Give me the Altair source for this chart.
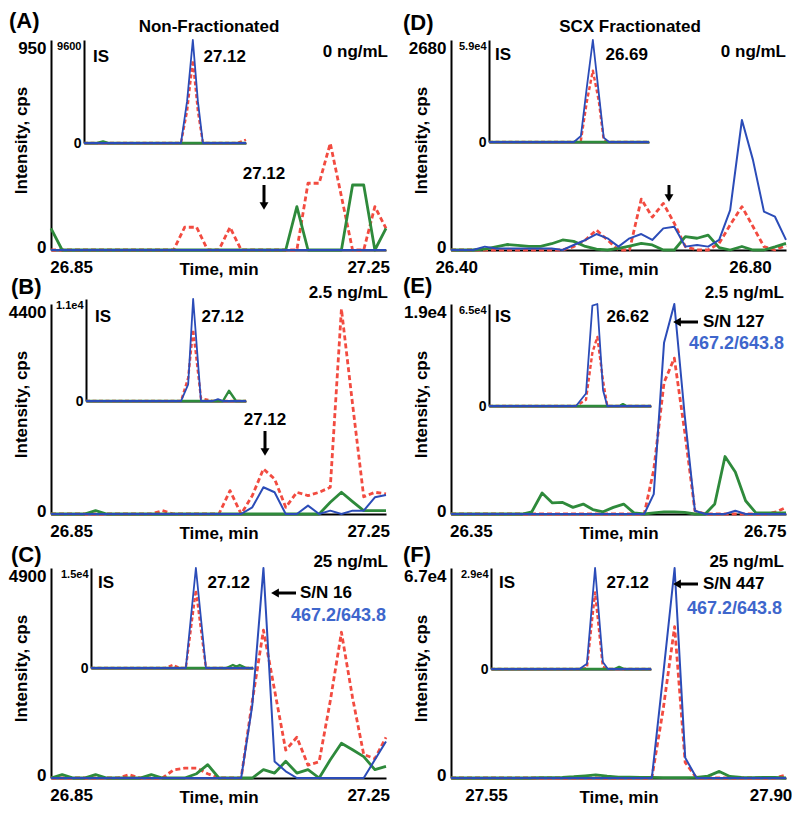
import altair as alt
import pandas as pd

FONT = "Liberation Sans"
BLUE = "#2b4cb8"
RED = "#f24b40"
GREEN = "#2e8a3b"
LABEL_BLUE = "#3e66cc"

# ------------------------------------------------------------------ data
# retention time grids (min)
time_nonfrac = [26.823, 26.838, 26.853, 26.868, 26.883, 26.898, 26.913, 26.928,
                26.943, 26.958, 26.973, 26.988, 27.003, 27.019, 27.034, 27.049,
                27.064, 27.079, 27.094, 27.109, 27.124, 27.139, 27.154, 27.169,
                27.184, 27.199, 27.214, 27.229, 27.244, 27.259, 27.274]
time_scx_0 = [26.393, 26.408, 26.423, 26.439, 26.454, 26.469, 26.484, 26.499,
              26.515, 26.530, 26.545, 26.560, 26.576, 26.591, 26.606, 26.621,
              26.636, 26.652, 26.667, 26.682, 26.697, 26.712, 26.728, 26.743,
              26.758, 26.773, 26.789, 26.804, 26.819, 26.834, 26.849]
time_scx_25 = [26.323, 26.336, 26.350, 26.364, 26.378, 26.392, 26.406, 26.420,
               26.433, 26.447, 26.461, 26.475, 26.489, 26.503, 26.516, 26.530,
               26.544, 26.558, 26.572, 26.586, 26.599, 26.613, 26.627, 26.641,
               26.655, 26.669, 26.682, 26.696, 26.710, 26.724, 26.738, 26.752,
               26.766, 26.779]
time_scx_250 = [27.507, 27.521, 27.534, 27.548, 27.562, 27.576, 27.589, 27.603,
                27.617, 27.631, 27.644, 27.658, 27.672, 27.685, 27.699, 27.713,
                27.727, 27.740, 27.754, 27.768, 27.782, 27.795, 27.809, 27.823,
                27.837, 27.850, 27.864, 27.878, 27.891, 27.905, 27.919]

# (A) non-fractionated, 0 ng/mL
blue_A = [0, 0, 0, 0, 0, 0, 0, 0, 0, 0, 0, 0, 0, 0, 0, 0,
          0, 0, 0, 0, 0, 0, 0, 0, 0, 0, 0, 0, 0, 0, 0]
red_A = [0, 0, 0, 0, 0, 0, 0, 0, 0, 0, 0, 0, 103, 103, 0, 0,
         103, 0, 0, 0, 0, 0, 0, 302, 302, 483, 242, 0, 0, 196, 98]
green_A = [98, 0, 0, 0, 0, 0, 0, 0, 0, 0, 0, 0, 0, 0, 0, 0,
           0, 0, 0, 0, 0, 0, 196, 0, 0, 0, 0, 294, 294, 0, 98]
# (B) non-fractionated, 2.5 ng/mL
blue_B = [0, 0, 0, 0, 0, 0, 0, 0, 0, 0, 0, 0, 0, 0, 0, 0,
          0, 0, 140, 560, 455, 0, 0, 175, 0, 70, 0, 70, 70, 350, 400]
red_B = [0, 0, 0, 0, 0, 0, 0, 0, 0, 0, 70, 0, 0, 0, 0, 0,
         490, 0, 385, 945, 735, 140, 455, 385, 455, 560, 4295, 2300, 360, 455, 420]
green_B = [0, 0, 0, 0, 70, 0, 0, 0, 0, 0, 0, 0, 0, 0, 0, 0,
           0, 0, 0, 0, 0, 0, 0, 0, 0, 245, 455, 260, 70, 70, 70]
# (C) non-fractionated, 25 ng/mL
blue_C = [0, 0, 0, 0, 0, 0, 0, 0, 0, 0, 0, 0, 0, 0, 0, 0,
          0, 0, 1700, 4900, 385, 155, 0, 0, 0, 0, 0, 0, 0, 425, 850]
red_C = [0, 0, 0, 0, 0, 0, 0, 77, 0, 0, 0, 190, 230, 230, 100, 0,
         0, 0, 1800, 3450, 2050, 650, 950, 300, 380, 1800, 3400, 1870, 550, 450, 950]
green_C = [0, 80, 0, 0, 80, 0, 0, 0, 0, 80, 0, 0, 0, 100, 310, 0,
           0, 0, 0, 195, 115, 390, 115, 195, 0, 425, 810, 660, 500, 195, 270]
# (D) SCX fractionated, 0 ng/mL
blue_D = [0, 0, 0, 43, 20, 20, 20, 20, 20, 20, 0, 64, 128, 204, 149, 43,
          149, 204, 128, 276, 298, 43, 64, 43, 128, 510, 1659, 1150, 490, 425, 130]
red_D = [0, 0, 0, 0, 0, 0, 0, 0, 0, 0, 0, 43, 128, 255, 128, 0,
         0, 650, 420, 595, 340, 43, 0, 0, 85, 320, 553, 300, 43, 0, 60]
green_D = [0, 0, 0, 10, 40, 70, 60, 45, 45, 80, 128, 110, 45, 10, 0, 20,
           50, 85, 65, 0, 0, 170, 150, 190, 30, 0, 45, 0, 0, 40, 85]
# (E) SCX fractionated, 2.5 ng/mL
blue_E = [0, 0, 0, 0, 0, 0, 0, 0, 0, 0, 0, 0, 0, 0, 0, 0, 0,
          0, 0, 0, 1800, 15500, 19000, 9000, 300, 0, 0, 0, 300, 0, 0, 0, 0, 0]
red_E = [0, 0, 0, 0, 0, 0, 0, 0, 0, 0, 0, 0, 0, 0, 0, 0, 0,
         0, 0, 0, 4000, 11900, 14100, 7500, 300, 0, 0, 0, 0, 0, 0, 0, 200, 600]
green_E = [0, 0, 0, 0, 0, 0, 0, 0, 200, 1900, 1000, 1050, 600, 900, 400, 200, 600,
           900, 100, 0, 100, 200, 200, 150, 0, 0, 900, 5200, 3800, 1200, 100, 100, 100, 100]
# (F) SCX fractionated, 25 ng/mL
blue_F = [0, 0, 0, 0, 0, 0, 0, 0, 0, 0, 0, 0, 0, 0, 0, 0,
          0, 0, 0, 33000, 67000, 6500, 0, 0, 0, 0, 0, 0, 0, 0, 0]
red_F = [0, 0, 0, 0, 0, 0, 0, 0, 0, 0, 0, 0, 0, 0, 0, 0,
         0, 0, 0, 22000, 48300, 5000, 0, 0, 0, 0, 0, 0, 0, 0, 1000]
green_F = [0, 0, 0, 0, 0, 0, 0, 0, 100, 150, 200, 400, 700, 1000, 600, 300,
           300, 200, 200, 150, 150, 150, 200, 600, 2100, 500, 200, 100, 200, 200, 0]

# internal standard (IS) insets
is_time_A = [26.823, 26.86, 26.876, 26.89, 27.093, 27.110, 27.126, 27.140, 27.154, 27.25, 27.274]
is_blue_A = [0, 0, 0, 0, 0, 3900, 9600, 3900, 0, 0, 0]
is_red_A = [0, 0, 0, 0, 0, 3000, 7700, 3000, 0, 0, 300]
is_green_A = [0, 0, 150, 0, 0, 0, 0, 0, 0, 0, 0]

is_time_B = [26.823, 27.091, 27.111, 27.125, 27.147, 27.18, 27.195, 27.209, 27.226, 27.246, 27.274]
is_blue_B = [0, 0, 1800, 11000, 0, 0, 200, 0, 0, 0, 0]
is_red_B = [0, 0, 2500, 7700, 300, 0, 0, 0, 0, 0, 0]
is_green_B = [0, 0, 0, 0, 0, 0, 0, 0, 1100, 0, 0]

is_time_C = [26.823, 27.03, 27.051, 27.07, 27.087, 27.115, 27.143, 27.2, 27.218, 27.228, 27.237, 27.255, 27.274]
is_blue_C = [0, 0, 0, 0, 0, 15000, 0, 0, 0, 0, 0, 0, 0]
is_red_C = [0, 0, 450, 0, 0, 11700, 0, 0, 0, 0, 0, 0, 0]
is_green_C = [0, 0, 0, 0, 0, 0, 0, 0, 450, 200, 450, 0, 0]

is_time_D = [26.393, 26.635, 26.655, 26.672, 26.689, 26.706, 26.72, 26.735, 26.849]
is_blue_D = [0, 0, 3500, 32000, 59000, 28000, 2500, 0, 0]
is_red_D = [0, 0, 1000, 23600, 41300, 23600, 1000, 0, 0]
is_green_D = [0, 0, 0, 0, 0, 0, 0, 0, 0]

is_time_E = [26.323, 26.568, 26.596, 26.614, 26.628, 26.644, 26.656, 26.69, 26.70, 26.71, 26.779]
is_blue_E = [0, 0, 8000, 64000, 65000, 10000, 0, 0, 0, 0, 0]
is_red_E = [0, 0, 4000, 34000, 44000, 16000, 0, 0, 0, 0, 0]
is_green_E = [0, 0, 0, 0, 0, 0, 0, 0, 1200, 0, 0]

is_time_F = [27.507, 27.735, 27.754, 27.775, 27.795, 27.808, 27.825, 27.837, 27.85, 27.919]
is_blue_F = [0, 0, 1500, 29000, 2000, 0, 0, 0, 0, 0]
is_red_F = [0, 0, 300, 22000, 600, 0, 0, 0, 0, 0]
is_green_F = [0, 0, 0, 0, 0, 0, 0, 600, 0, 0]

# labels / axes values
panel_ids = ["A", "B", "C", "D", "E", "F"]
letters = ["(A)", "(B)", "(C)", "(D)", "(E)", "(F)"]
conc_labels = ["0 ng/mL", "2.5 ng/mL", "25 ng/mL", "0 ng/mL", "2.5 ng/mL", "25 ng/mL"]
column_titles = {"A": "Non-Fractionated", "D": "SCX Fractionated"}
x_domains = [[26.823, 27.274], [26.823, 27.274], [26.823, 27.274],
             [26.393, 26.849], [26.323, 26.779], [27.507, 27.919]]
x_ticks = [[26.85, 27.25], [26.85, 27.25], [26.85, 27.25],
           [26.40, 26.80], [26.35, 26.75], [27.55, 27.90]]
y_max = [950, 4400, 4900, 2680, 19000, 67000]
y_max_labels = ["950", "4400", "4900", "2680", "1.9e4", "6.7e4"]
is_max = [9600, 11000, 15000, 59000, 65000, 29000]
is_max_labels = ["9600", "1.1e4", "1.5e4", "5.9e4", "6.5e4", "2.9e4"]
is_rt_labels = ["27.12", "27.12", "27.12", "26.69", "26.62", "27.12"]
is_name = "IS"
arrow_labels = {"A": "27.12", "B": "27.12"}
sn_labels = {"C": "S/N 16", "E": "S/N 127", "F": "S/N 447"}
transition = "467.2/643.8"

main_data = {
    "A": (time_nonfrac, blue_A, red_A, green_A),
    "B": (time_nonfrac, blue_B, red_B, green_B),
    "C": (time_nonfrac, blue_C, red_C, green_C),
    "D": (time_scx_0, blue_D, red_D, green_D),
    "E": (time_scx_25, blue_E, red_E, green_E),
    "F": (time_scx_250, blue_F, red_F, green_F),
}
inset_data = {
    "A": (is_time_A, is_blue_A, is_red_A, is_green_A),
    "B": (is_time_B, is_blue_B, is_red_B, is_green_B),
    "C": (is_time_C, is_blue_C, is_red_C, is_green_C),
    "D": (is_time_D, is_blue_D, is_red_D, is_green_D),
    "E": (is_time_E, is_blue_E, is_red_E, is_green_E),
    "F": (is_time_F, is_blue_F, is_red_F, is_green_F),
}

# ------------------------------------------------------------------ layout (pixels, panel-relative)
W, H = 335, 210
LAYOUT = {
    "A": dict(letter=(-42, -19), title=(158, -13), conc=(337, 12), ix=[33, 195], iy=[103, 0],
              is_xy=(42, 17), rt_xy=(195, 17), down=(213, 145, 170), down_label=(213, 134)),
    "B": dict(letter=(-40, -17), conc=(337, -11), ix=[35, 195], iy=[97, -5],
              is_xy=(44, 13), rt_xy=(193, 13), down=(214, 127, 152), down_label=(214, 116)),
    "C": dict(letter=(-40, -13), conc=(337, -6), ix=[40, 202], iy=[100, 0],
              is_xy=(47, 15), rt_xy=(199, 15), left=(220, 245, 25), sn_xy=(249, 25), tr_xy=(335, 48)),
    "D": dict(letter=(-48, -17), title=(179, -13), conc=(335, 12), ix=[38, 198], iy=[102, 0],
              is_xy=(44, 15), rt_xy=(197, 15), down=(218, 145, 162)),
    "E": dict(letter=(-48, -18), conc=(333, -11), ix=[38, 200], iy=[102, 0],
              is_xy=(44, 13), rt_xy=(198, 13), left=(222, 247, 18), sn_xy=(252, 18), tr_xy=(333, 40)),
    "F": dict(letter=(-48, -13), conc=(333, -6), ix=[40, 200], iy=[101, 0],
              is_xy=(48, 15), rt_xy=(198, 15), left=(222, 247, 16), sn_xy=(252, 16), tr_xy=(331, 41)),
}

STYLE = {
    "red": dict(color=RED, strokeWidth=2.8, strokeDash=[5, 3]),
    "green": dict(color=GREEN, strokeWidth=2.8),
    "blue": dict(color=BLUE, strokeWidth=2.0),
}
ISTYLE = {
    "red": dict(color=RED, strokeWidth=2.4, strokeDash=[4, 2.5]),
    "green": dict(color=GREEN, strokeWidth=2.4),
    "blue": dict(color=BLUE, strokeWidth=1.8),
}

cond_base = {"condition": {"test": "datum.value == 0", "value": "middle"}, "value": "top"}
cond_size = {"condition": {"test": "datum.value == 0", "value": 14}, "value": 11}
cond_offset = {"condition": {"test": "datum.value == 0", "value": -3}, "value": 0}


def txt(s, x, y, size=17, align="left", color="black"):
    return alt.Chart(alt.Data(values=[{"s": s}])).mark_text(
        align=align, baseline="middle", font=FONT, fontSize=size,
        fontWeight="bold", color=color
    ).encode(x=alt.value(x), y=alt.value(y), text="s:N")


def down_arrow(x, y0, y1):
    one = alt.Data(values=[{"k": 1}])
    shaft = alt.Chart(one).mark_rule(color="black", strokeWidth=3).encode(
        x=alt.value(x), y=alt.value(y0), y2=alt.value(y1 - 6))
    head = alt.Chart(one).mark_point(shape="triangle-down", filled=True, size=80,
                                     color="black", opacity=1).encode(
        x=alt.value(x), y=alt.value(y1 - 4))
    return [shaft, head]


def left_arrow(x_tip, x_end, y):
    one = alt.Data(values=[{"k": 1}])
    shaft = alt.Chart(one).mark_rule(color="black", strokeWidth=3).encode(
        x=alt.value(x_tip + 6), x2=alt.value(x_end), y=alt.value(y))
    head = alt.Chart(one).mark_point(shape="triangle-left", filled=True, size=80,
                                     color="black", opacity=1).encode(
        x=alt.value(x_tip + 4), y=alt.value(y))
    return [shaft, head]


def make_panel(k):
    i = panel_ids.index(k)
    lay = LAYOUT[k]
    t, b, r, g = main_data[k]
    df = pd.DataFrame({"time": t, "blue": b, "red": r, "green": g})
    it, ib, ir, ig = inset_data[k]
    idf = pd.DataFrame({"time": it, "blue": ib, "red": ir, "green": ig})

    xs = alt.Scale(domain=x_domains[i], nice=False, zero=False)
    ys = alt.Scale(domain=[0, y_max[i]], nice=False)
    xa = alt.Axis(values=x_ticks[i], format=".2f", labelFlush=False, ticks=False, grid=False,
                  domainColor="black", domainWidth=2, labelFontSize=17, labelPadding=9,
                  title="Time, min", titleFontSize=17, titleY=19, titleBaseline="middle")
    ya = alt.Axis(orient="left", values=[0, y_max[i]],
                  labelExpr=f"datum.value == 0 ? '0' : '{y_max_labels[i]}'",
                  ticks=False, grid=False, domainColor="black", domainWidth=2,
                  labelFontSize=17, labelPadding=5, labelBaseline=cond_base,
                  labelOffset=cond_offset, labelFlush=False,
                  title="Intensity, cps", titleFontSize=17, titleX=-30, titleY=100,
                  titleAngle=270, titleBaseline="middle", titleAlign="center")

    main_layers = []
    for f in ["red", "green", "blue"]:
        main_layers.append(
            alt.Chart(df).mark_line(strokeJoin="round", **STYLE[f]).encode(
                x=alt.X("time:Q", scale=xs, axis=xa),
                y=alt.Y(f"{f}:Q", scale=ys, axis=ya)))

    ann = []
    ann.append(txt(letters[i], *lay["letter"], size=22))
    if k in column_titles:
        ann.append(txt(column_titles[k], *lay["title"], align="center"))
    ann.append(txt(conc_labels[i], *lay["conc"], align="right"))
    ann.append(txt(is_name, *lay["is_xy"]))
    ann.append(txt(is_rt_labels[i], *lay["rt_xy"], align="right"))
    if "down" in lay:
        ann += down_arrow(*lay["down"])
    if "down_label" in lay:
        ann.append(txt(arrow_labels[k], *lay["down_label"], align="center"))
    if "left" in lay:
        ann += left_arrow(*lay["left"])
        ann.append(txt(sn_labels[k], *lay["sn_xy"]))
        ann.append(txt(transition, *lay["tr_xy"], size=18, align="right", color=LABEL_BLUE))

    main = alt.layer(*main_layers, *ann)

    ixs = alt.Scale(domain=x_domains[i], nice=False, zero=False, range=lay["ix"])
    iys = alt.Scale(domain=[0, is_max[i]], nice=False, range=lay["iy"])
    ixa = alt.Axis(orient="bottom", offset=-(H - lay["iy"][0]), labels=False, ticks=False,
                   grid=False, domainColor="black", domainWidth=2, title=None)
    iya = alt.Axis(orient="left", offset=-lay["ix"][0], values=[0, is_max[i]],
                   labelExpr=f"datum.value == 0 ? '0' : '{is_max_labels[i]}'",
                   ticks=False, grid=False, domainColor="black", domainWidth=2,
                   labelFontSize=cond_size, labelPadding=3, labelBaseline=cond_base,
                   labelFlush=False, title=None)
    inset_layers = []
    for f in ["red", "green", "blue"]:
        inset_layers.append(
            alt.Chart(idf).mark_line(strokeJoin="round", **ISTYLE[f]).encode(
                x=alt.X("time:Q", scale=ixs, axis=ixa),
                y=alt.Y(f"{f}:Q", scale=iys, axis=iya)))
    inset = alt.layer(*inset_layers)

    return alt.layer(main, inset).resolve_scale(x="independent", y="independent").properties(
        width=W, height=H)


panels = [make_panel(k) for k in ["A", "D", "B", "E", "C", "F"]]
chart = alt.concat(*panels, columns=2, spacing={"row": 54, "column": 65}).properties(
    bounds="flush", padding={"left": 0, "top": 2, "right": 0, "bottom": 0}
).configure_view(stroke=None).configure_axis(
    labelFont=FONT, titleFont=FONT, labelFontWeight="bold", titleFontWeight="bold",
    labelColor="black", titleColor="black"
)

chart.save("out.html", embed_options={"renderer": "svg", "actions": False})
